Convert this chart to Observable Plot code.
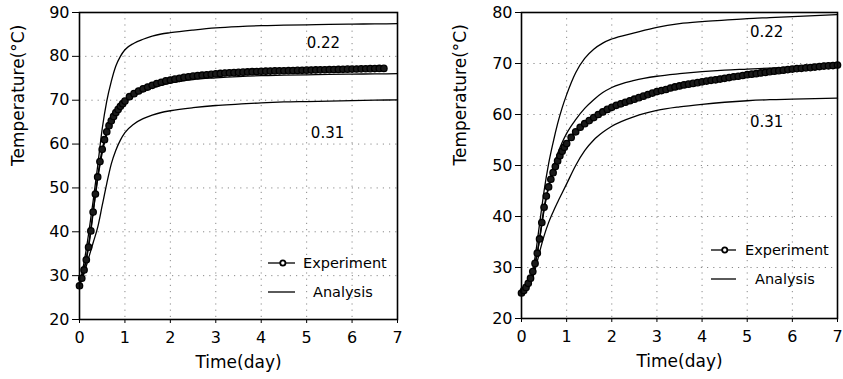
<!DOCTYPE html>
<html>
<head>
<meta charset="utf-8">
<script src="https://cdn.jsdelivr.net/npm/d3@7"></script>
<script src="https://cdn.jsdelivr.net/npm/@observablehq/plot@0.6"></script>
<style>
  html, body { margin: 0; padding: 0; background: #fff; }
  #wrap { position: relative; width: 843px; height: 379px; display: flex; overflow: hidden; }
  #legend { position: absolute; left: 0; top: 0; pointer-events: none; }
</style>
</head>
<body>
<div id="wrap"></div>
<script>
// ---------- data ----------
const xTicks = [0, 1, 2, 3, 4, 5, 6, 7];
const leftYTicks = [20, 30, 40, 50, 60, 70, 80, 90];
const rightYTicks = [20, 30, 40, 50, 60, 70, 80];
const xTitle = "Time(day)";
const yTitle = "Temperature(°C)";
const legendLabels = ["Experiment", "Analysis"];
const curveLabels = ["0.22", "0.31"];
const leftLabelX = [5.37, 5.46];
const leftLabelY = [82.9, 62.4];
const rightLabelX = [5.43, 5.43];
const rightLabelY = [76.2, 58.4];

const leftExpTime = [0,0.05,0.1,0.15,0.2,0.25,0.3,0.35,0.4,0.45,0.5,0.55,0.6,0.65,0.7,0.75,0.8,0.85,0.9,0.95,1.0,
  1.1,1.2,1.3,1.4,1.5,1.6,1.7,1.8,1.9,2.0,2.1,2.2,2.3,2.4,2.5,2.6,2.7,2.8,2.9,3.0,
  3.1,3.2,3.3,3.4,3.5,3.6,3.7,3.8,3.9,4.0,4.1,4.2,4.3,4.4,4.5,4.6,4.7,4.8,4.9,5.0,
  5.1,5.2,5.3,5.4,5.5,5.6,5.7,5.8,5.9,6.0,6.1,6.2,6.3,6.4,6.5,6.6,6.7];
const leftExpTemp = [27.7,29.4,31.3,33.6,36.5,40.2,44.5,48.6,52.5,56.0,58.8,61.0,62.8,64.2,65.3,66.3,67.2,67.9,68.6,69.2,69.8,
  70.8,71.5,72.1,72.6,73.0,73.4,73.8,74.1,74.4,74.6,74.8,75.0,75.2,75.35,75.5,75.6,75.7,75.8,75.9,76.0,
  76.1,76.2,76.25,76.3,76.35,76.4,76.45,76.5,76.55,76.6,76.62,76.65,76.68,76.7,76.72,76.75,76.78,76.8,76.82,76.85,
  76.88,76.9,76.92,76.95,76.98,77.0,77.02,77.05,77.08,77.1,77.12,77.15,77.17,77.2,77.22,77.24,77.25];

const rightExpTime = [0,0.05,0.1,0.15,0.2,0.25,0.3,0.35,0.4,0.45,0.5,0.55,0.6,0.65,0.7,0.75,0.8,0.85,0.9,0.95,1.0,
  1.1,1.2,1.3,1.4,1.5,1.6,1.7,1.8,1.9,2.0,2.1,2.2,2.3,2.4,2.5,2.6,2.7,2.8,2.9,3.0,
  3.1,3.2,3.3,3.4,3.5,3.6,3.7,3.8,3.9,4.0,4.1,4.2,4.3,4.4,4.5,4.6,4.7,4.8,4.9,5.0,
  5.1,5.2,5.3,5.4,5.5,5.6,5.7,5.8,5.9,6.0,6.1,6.2,6.3,6.4,6.5,6.6,6.7,6.8,6.9,7.0];
const rightExpTemp = [25.0,25.5,26.1,26.9,27.9,29.2,30.8,32.8,35.6,38.8,41.8,44.0,45.8,47.3,48.6,49.8,50.9,51.9,52.8,53.6,54.3,
  55.5,56.6,57.5,58.2,58.8,59.4,60.0,60.5,61.0,61.4,61.8,62.1,62.4,62.7,63.0,63.3,63.6,63.9,64.2,64.5,
  64.7,64.9,65.2,65.4,65.6,65.8,65.95,66.1,66.25,66.4,66.55,66.7,66.8,66.95,67.1,67.25,67.4,67.5,67.65,67.8,
  67.9,68.0,68.15,68.25,68.4,68.5,68.6,68.7,68.8,68.9,69.0,69.05,69.15,69.2,69.3,69.4,69.5,69.55,69.6,69.7];

const analysisTime = [0,0.1,0.2,0.3,0.4,0.5,0.6,0.7,0.8,0.9,1.0,1.2,1.4,1.6,1.8,2.0,2.5,3.0,3.5,4.0,4.5,5.0,5.5,6.0,6.5,7.0];
const leftAnalysis022 = [28,33,39.5,47,55,63.5,69.8,74.3,77.8,80.0,81.5,83.0,83.9,84.6,85.1,85.4,86.0,86.5,86.8,87.0,87.1,87.2,87.3,87.35,87.4,87.45];
const leftAnalysisMid = [28,31.5,37,44.5,52,58,62.3,65,67,68.4,69.5,71.0,72.0,72.8,73.4,73.9,74.7,75.1,75.4,75.6,75.7,75.8,75.9,75.95,76.0,76.05];
const leftAnalysis031 = [28,30.5,34,37.5,41,46,51,55.5,58.6,60.9,62.6,64.6,65.8,66.6,67.2,67.6,68.3,68.8,69.1,69.4,69.6,69.7,69.8,69.9,70.0,70.1];
const rightAnalysis022 = [25,25.8,27.8,32,38.5,45,50.3,54.5,58.2,61.3,63.9,68.2,71.0,72.8,74,74.8,76,77.1,77.8,78.2,78.5,78.8,79.0,79.2,79.4,79.6];
const rightAnalysisMid = [25,25.8,27.3,30.5,35.5,41.2,45.8,49.5,52.3,54.5,56.3,59.0,61.2,62.9,64.3,65.3,66.7,67.5,68.0,68.4,68.7,68.9,69.1,69.3,69.5,69.6];
const rightAnalysis031 = [25,25.6,26.8,29.5,33,36.2,38.8,40.9,42.8,44.6,46.4,50.0,52.9,55.0,56.5,57.7,59.6,60.8,61.5,62.0,62.4,62.7,62.9,63.0,63.1,63.2];

// ---------- drawing ----------
const FONT = "'DejaVu Sans', sans-serif";
const toPts = (xs, ys) => xs.map((x, i) => ({x, y: ys[i]}));

function panel(cfg) {
  const exp = toPts(cfg.expTime, cfg.expTemp);
  const labels = curveLabels.map((t, i) => ({t, x: cfg.labelX[i], y: cfg.labelY[i]}));
  const grid = {stroke: "#8a8a8a", strokeOpacity: 1, strokeWidth: 1, strokeDasharray: "1.2,5"};
  return Plot.plot({
    width: cfg.width, height: 379,
    marginLeft: cfg.marginLeft, marginRight: cfg.marginRight,
    marginTop: 12, marginBottom: cfg.marginBottom,
    style: {fontFamily: FONT, fontSize: "16px", color: "#000", background: "#fff", overflow: "visible"},
    x: {domain: [0, 7]},
    y: {domain: cfg.yDomain},
    marks: [
      Plot.gridX(xTicks.slice(1, -1), grid),
      Plot.gridY(cfg.yTicks.slice(1, -1), grid),
      ...cfg.analysis.map(a => Plot.line(toPts(analysisTime, a), {x: "x", y: "y", stroke: "#000", strokeWidth: 1.3, curve: "monotone-x"})),
      Plot.line(exp, {x: "x", y: "y", stroke: "#000", strokeWidth: 1.5}),
      Plot.dot(exp, {x: "x", y: "y", r: 3.2, stroke: "#000", strokeWidth: 1.3, fill: "#1a1a1a"}),
      Plot.text(labels, {x: "x", y: "y", text: "t", fontSize: 15, fill: "#000"}),
      Plot.frame({stroke: "#000", strokeWidth: 1.6}),
      Plot.axisX(xTicks, {tickSize: 4, tickPadding: 8, label: null, fontSize: 16, stroke: "#000"}),
      Plot.axisY(cfg.yTicks, {tickSize: cfg.yTickSize, tickPadding: 3, label: null, fontSize: 16, stroke: "#000"}),
      Plot.text([xTitle], {frameAnchor: "bottom", dy: 48, fontSize: 17, fill: "#000"}),
      Plot.text([yTitle], {frameAnchor: "left", dx: -61, rotate: -90, fontSize: 17, fill: "#000"})
    ]
  });
}

const wrap = document.getElementById("wrap");
const left = panel({
  width: 421, marginLeft: 79, marginRight: 24, marginBottom: 60,
  yDomain: [20, 90], yTicks: leftYTicks, yTickSize: 7,
  expTime: leftExpTime, expTemp: leftExpTemp,
  analysis: [leftAnalysis022, leftAnalysisMid, leftAnalysis031],
  labelX: leftLabelX, labelY: leftLabelY
});
const right = panel({
  width: 422, marginLeft: 100, marginRight: 6, marginBottom: 61,
  yDomain: [20, 80], yTicks: rightYTicks, yTickSize: 6,
  expTime: rightExpTime, expTemp: rightExpTemp,
  analysis: [rightAnalysis022, rightAnalysisMid, rightAnalysis031],
  labelX: rightLabelX, labelY: rightLabelY
});
wrap.appendChild(left);
wrap.appendChild(right);

// ---------- legends (overlay) ----------
const svg = d3.select(wrap).append("svg").attr("id", "legend")
  .attr("width", 843).attr("height", 379)
  .style("font-family", FONT).style("font-size", "14.5px");
function legend(g, x0, x1, yExp, yAna, textExpX, textAnaX) {
  g.append("line").attr("x1", x0).attr("x2", x1).attr("y1", yExp).attr("y2", yExp).attr("stroke", "#000").attr("stroke-width", 1.3);
  g.append("circle").attr("cx", x0 + (x1 - x0) * 0.55).attr("cy", yExp).attr("r", 2.6).attr("fill", "#fff").attr("stroke", "#000").attr("stroke-width", 1.8);
  g.append("text").attr("x", textExpX).attr("y", yExp).attr("dy", "0.35em").text(legendLabels[0]);
  g.append("line").attr("x1", x0).attr("x2", x1).attr("y1", yAna).attr("y2", yAna).attr("stroke", "#000").attr("stroke-width", 1.3);
  g.append("text").attr("x", textAnaX).attr("y", yAna).attr("dy", "0.35em").text(legendLabels[1]);
}
legend(svg.append("g"), 268, 295, 263, 292, 303, 313);
legend(svg.append("g"), 711, 736, 250, 279, 745, 755);
</script>
</body>
</html>
